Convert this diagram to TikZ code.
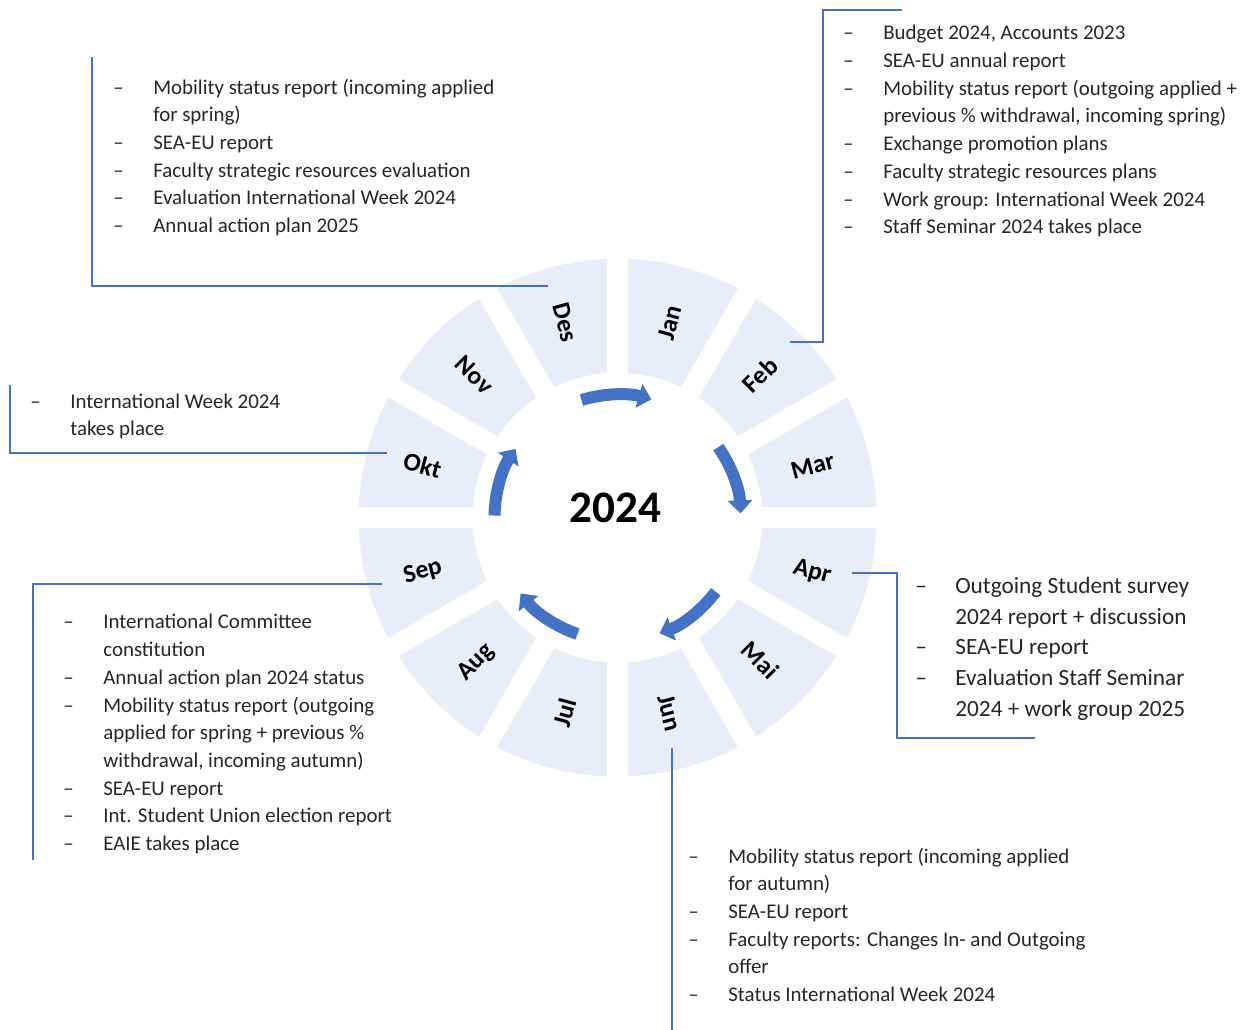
\documentclass[tikz,border=0pt]{standalone}
\usepackage{fontspec}
\setmainfont{Carlito}
\usepackage{xcolor}
\usepackage{tikz}
\usetikzlibrary{arrows.meta}

\definecolor{ringfill}{RGB}{233,237,247}
\definecolor{officeblue}{RGB}{68,114,196}
\definecolor{bodytext}{RGB}{38,38,38}

% dash column + text column, first row on the baseline
\newcommand{\tasklist}[1]{\begin{tabular}[t]{@{}p{0.8cm}@{}l@{}}#1\end{tabular}}

\begin{document}
\begin{tikzpicture}[x=0.02cm, y=0.02cm,
    month/.style={font=\fontsize{14.5}{17}\selectfont\bfseries, text height=0.96em, text depth=0pt, inner sep=0pt},
    yearlabel/.style={font=\fontsize{25.7}{30}\selectfont\bfseries, inner sep=0pt},
    tasks/.style={font=\fontsize{11.9}{15.75}\selectfont, text=bodytext, anchor=base west, inner sep=0pt},
    bigtasks/.style={tasks, font=\fontsize{13.25}{17.5}\selectfont},
    leader/.style={officeblue, line width=1.1pt},
    turn/.style={officeblue, line width=0.24cm, -{Triangle[width=0.48cm,length=0.26cm]}}]
    \useasboundingbox (0,0) rectangle (1253,1030);

    \begin{scope}[shift={(617.5,512.3)}]
        % Ring of months
        \foreach \mon [count=\i from 0] in {Jan,Feb,Mar,Apr,Mai,Jun,Jul,Aug,Sep,Okt,Nov,Des}{
            \pgfmathsetmacro\ang{75-30*\i}
            \pgfmathsetmacro\rot{\i<6 ? \ang : \ang+180}
            \pgfmathsetmacro\oa{\ang-12.68}
            \pgfmathsetmacro\ob{\ang+12.68}
            \pgfmathsetmacro\ia{\ang-10.85}
            \pgfmathsetmacro\ib{\ang+10.85}
            \fill[ringfill] (\oa:259) arc[start angle=\oa, end angle=\ob, radius=259]
                -- (\ib:145) arc[start angle=\ib, end angle=\ia, radius=145] -- cycle;
            \node[month, rotate=\rot] (\mon) at (\ang:202) {\mon};
        }

        % Cycle arrows
        \foreach \k in {0,...,4}{
            \pgfmathsetmacro\sa{107-72*\k}
            \pgfmathsetmacro\ea{74-72*\k}
            \draw[turn] (\sa:123) arc[start angle=\sa, end angle=\ea, radius=123];
        }

        % Year
        \node[yearlabel] (year) at (-2.3,9.4) {2024};
    \end{scope}

    % Leader lines
    \coordinate (desPin) at (548,744);
    \coordinate (desTop) at (92,973);
    \draw[leader] (desPin) -| (desTop);

    \coordinate (febPin) at (790,688);
    \coordinate (febEnd) at (902,1020);
    \draw[leader] (febPin) -- ++(33,0) |- (febEnd);

    \coordinate (oktPin) at (387,577);
    \coordinate (oktTop) at (10,645);
    \draw[leader] (oktPin) -| (oktTop);

    \coordinate (sepPin) at (382,446);
    \coordinate (sepEnd) at (33,170);
    \draw[leader] (sepPin) -| (sepEnd);

    \coordinate (aprPin) at (852,457);
    \coordinate (aprEnd) at (1035,292);
    \draw[leader] (aprPin) -- ++(45,0) |- (aprEnd);

    \coordinate (junPin) at (672,282);
    \coordinate (junEnd) at (672,0);
    \draw[leader] (junPin) -- (junEnd);

    % Task lists
    \node[tasks] (desTasks) at (113,935.7) {\tasklist{
        – & Mobility status report (incoming applied\\
          & for spring)\\
        – & SEA-EU report\\
        – & Faculty strategic resources evaluation\\
        – & Evaluation International Week 2024\\
        – & Annual action plan 2025}};

    \node[tasks] (febTasks) at (843,990) {\tasklist{
        – & Budget 2024, Accounts 2023\\
        – & SEA-EU annual report\\
        – & Mobility status report (outgoing applied +\\
          & previous \% withdrawal, incoming spring)\\
        – & Exchange promotion plans\\
        – & Faculty strategic resources plans\\
        – & Work group: International Week 2024\\
        – & Staff Seminar 2024 takes place}};

    \node[tasks] (oktTasks) at (30,621.7) {\tasklist{
        – & International Week 2024\\
          & takes place}};

    \node[bigtasks] (aprTasks) at (915,436.7) {\tasklist{
        – & Outgoing Student survey\\
          & 2024 report + discussion\\
        – & SEA-EU report\\
        – & Evaluation Staff Seminar\\
          & 2024 + work group 2025}};

    \node[tasks] (sepTasks) at (63,401) {\tasklist{
        – & International Committee\\
          & constitution\\
        – & Annual action plan 2024 status\\
        – & Mobility status report (outgoing\\
          & applied for spring + previous \%\\
          & withdrawal, incoming autumn)\\
        – & SEA-EU report\\
        – & Int. Student Union election report\\
        – & EAIE takes place}};

    \node[tasks] (junTasks) at (688,166.7) {\tasklist{
        – & Mobility status report (incoming applied\\
          & for autumn)\\
        – & SEA-EU report\\
        – & Faculty reports: Changes In- and Outgoing\\
          & offer\\
        – & Status International Week 2024}};
\end{tikzpicture}
\end{document}
